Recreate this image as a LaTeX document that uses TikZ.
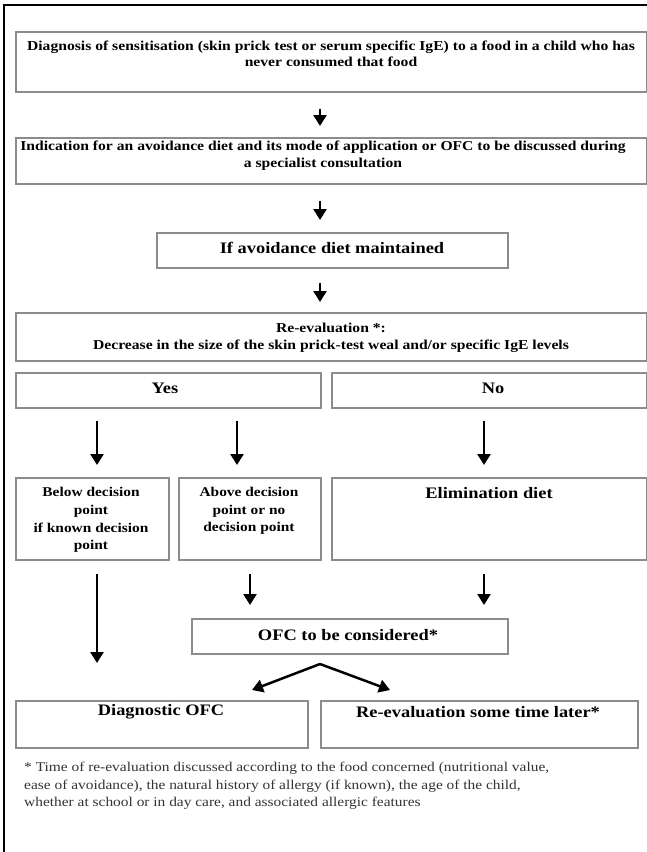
\documentclass[tikz,border=0pt]{standalone}
\usepackage{fontspec}
\setmainfont{Liberation Serif}[FakeStretch=1.15]
\usetikzlibrary{arrows.meta,calc}
\begin{document}
\begin{tikzpicture}[x=1pt,y=-1pt,
  box/.style={draw=black!45, line width=1.5pt, inner sep=0pt, anchor=north west},
  txt/.style={font=\bfseries\fontsize{13.6}{16.5}\selectfont, align=center, inner sep=0pt},
  big/.style={font=\bfseries\fontsize{16}{18}\selectfont, align=center, inner sep=0pt},
  sml/.style={font=\bfseries\fontsize{13.4}{17.7}\selectfont, align=center, inner sep=0pt},
  note/.style={font=\fontsize{13.4}{17.5}\selectfont, align=left, inner sep=0pt, anchor=north west, text=black!80},
  arr/.style={line width=2.5pt, -{Triangle[length=11pt,width=13pt]}}]
\useasboundingbox (0,0) rectangle (647,852);
\fill[white] (0,0) rectangle (647,852);
\draw[line width=1.3pt] (4,852) -- (4,5) -- (647,5);

% boxes
\node[box, minimum width=631, minimum height=60] (b1) at (15,31) {};
\node[box, minimum width=631, minimum height=46] (b2) at (15,137) {};
\node[box, minimum width=351, minimum height=35] (b3) at (156,232) {};
\node[box, minimum width=631, minimum height=48] (b4) at (15,312) {};
\node[box, minimum width=305, minimum height=35] (yes) at (15,372) {};
\node[box, minimum width=315, minimum height=35] (no) at (331,372) {};
\node[box, minimum width=153, minimum height=82] (below) at (15,477) {};
\node[box, minimum width=142, minimum height=82] (above) at (178,477) {};
\node[box, minimum width=315, minimum height=82] (elim) at (331,477) {};
\node[box, minimum width=316, minimum height=35] (ofc) at (191,618) {};
\node[box, minimum width=292, minimum height=47] (diag) at (15,700) {};
\node[box, minimum width=317, minimum height=47] (reev) at (320,700) {};

% texts
\node[txt] (t1) at (331,54) {Diagnosis of sensitisation (skin prick test or serum specific IgE) to a food in a child who has\\never consumed that food};
\node[txt] (t2) at (323,155.5) {Indication for an avoidance diet and its mode of application or OFC to be discussed during\\a specialist consultation};
\node[big] (t3) at (332,248) {If avoidance diet maintained};
\node[txt] (t4) at (331,338) {Re-evaluation *:\\Decrease in the size of the skin prick-test weal and/or specific IgE levels};
\node[big] (t5) at (165,388) {Yes};
\node[big] (t6) at (493,388) {No};
\node[sml] (t7) at (91,520) {Below decision\\point\\if known decision\\point};
\node[sml] (t8) at (249,511) {Above decision\\point or no\\decision point};
\node[big] (t9) at (489,493) {Elimination diet};
\node[big] (t10) at (348,635) {OFC to be considered*};
\node[big] (t11) at (161,712) {Diagnostic OFC};
\node[big] (t12) at (478,712) {Re-evaluation some time later*};
\node[note] (fn) at (24,762) {* Time of re-evaluation discussed according to the food concerned (nutritional value,\\ease of avoidance), the natural history of allergy (if known), the age of the child,\\whether at school or in day care, and associated allergic features};

% helper coordinates
\coordinate (xm) at (320,0);
\coordinate (xl) at (97,0);
\coordinate (xa) at (237,0);
\coordinate (xa2) at (250,0);
\coordinate (xr) at (484,0);
\coordinate (apex) at (320,664);
\coordinate (endl) at (97,663);
\coordinate (hl) at (252,690);
\coordinate (hr) at (390,690);

% arrows
\draw[arr, shorten <=16pt, shorten >=11pt] (b1.south -| xm) -- (b2.north -| xm);
\draw[arr, shorten <=16pt, shorten >=12pt] (b2.south -| xm) -- (b3.north -| xm);
\draw[arr, shorten <=14pt, shorten >=10pt] (b3.south -| xm) -- (b4.north -| xm);
\draw[arr, shorten <=12pt, shorten >=12pt] (yes.south -| xl) -- (below.north -| xl);
\draw[arr, shorten <=12pt, shorten >=12pt] (yes.south -| xa) -- (above.north -| xa);
\draw[arr, shorten <=12pt, shorten >=12pt] (no.south -| xr) -- (elim.north -| xr);
\draw[arr, shorten <=13pt] (below.south -| xl) -- (endl);
\draw[arr, shorten <=13pt, shorten >=13pt] (above.south -| xa2) -- (ofc.north -| xa2);
\draw[arr, shorten <=13pt, shorten >=13pt] (elim.south -| xr) -- (ofc.north -| xr);
\draw[arr] (apex) -- (hl);
\draw[arr] (apex) -- (hr);
\end{tikzpicture}
\end{document}
